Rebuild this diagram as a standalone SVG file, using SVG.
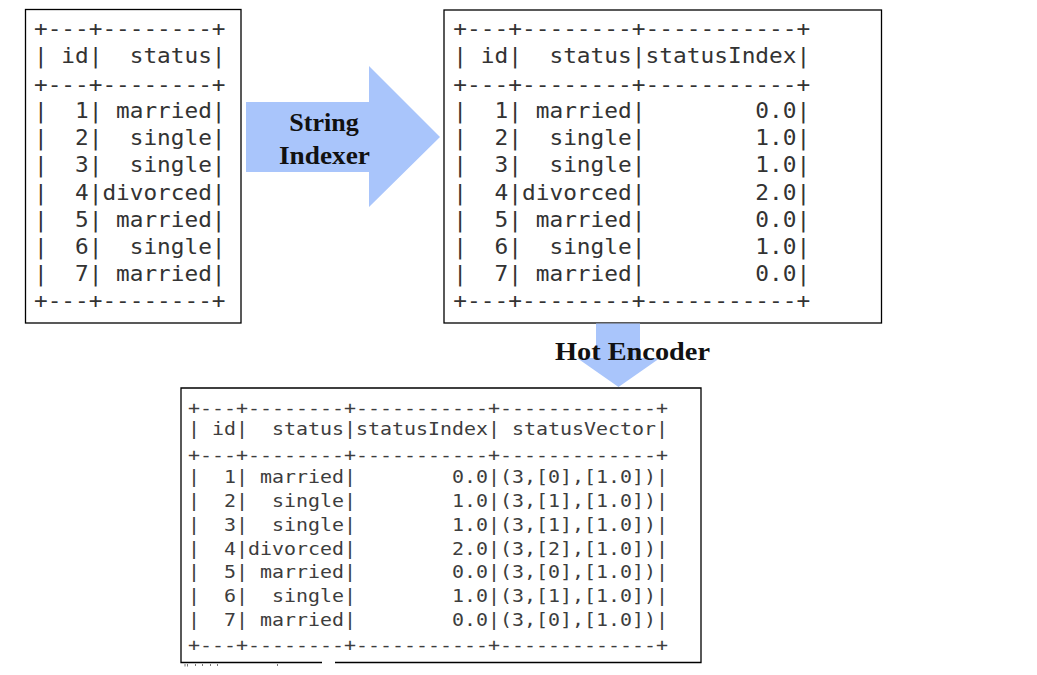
<svg xmlns="http://www.w3.org/2000/svg" width="1037" height="675" viewBox="0 0 1037 675">
<style>
.box{fill:#fff;stroke:#000;stroke-width:1.3}
.t{font-family:"DejaVu Sans Mono",monospace;font-size:20.5px;fill:#333;white-space:pre}
.s{font-family:"DejaVu Sans Mono",monospace;font-size:18.5px;fill:#3d3d3d;white-space:pre}
.arrow{fill:#a9c5fb}
.lbl{font-family:"Liberation Serif","Times New Roman",serif;font-weight:bold;fill:#111}
</style>
<rect width="1037" height="675" fill="#fff"/>
<g id="table-raw">
<rect class="box" x="25.5" y="9.5" width="215.5" height="313.5"/>
<g class="t">
<text x="34" y="35.5" textLength="191.5" lengthAdjust="spacingAndGlyphs">+---+--------+</text>
<text x="34" y="62.5" textLength="191.5" lengthAdjust="spacingAndGlyphs">|&#160;id|&#160;&#160;status|</text>
<text x="34" y="92" textLength="191.5" lengthAdjust="spacingAndGlyphs">+---+--------+</text>
<text x="34" y="118" textLength="191.5" lengthAdjust="spacingAndGlyphs">|&#160;&#160;1|&#160;married|</text>
<text x="34" y="145.2" textLength="191.5" lengthAdjust="spacingAndGlyphs">|&#160;&#160;2|&#160;&#160;single|</text>
<text x="34" y="172.4" textLength="191.5" lengthAdjust="spacingAndGlyphs">|&#160;&#160;3|&#160;&#160;single|</text>
<text x="34" y="199.6" textLength="191.5" lengthAdjust="spacingAndGlyphs">|&#160;&#160;4|divorced|</text>
<text x="34" y="226.8" textLength="191.5" lengthAdjust="spacingAndGlyphs">|&#160;&#160;5|&#160;married|</text>
<text x="34" y="254" textLength="191.5" lengthAdjust="spacingAndGlyphs">|&#160;&#160;6|&#160;&#160;single|</text>
<text x="34" y="281.2" textLength="191.5" lengthAdjust="spacingAndGlyphs">|&#160;&#160;7|&#160;married|</text>
<text x="34" y="308" textLength="191.5" lengthAdjust="spacingAndGlyphs">+---+--------+</text>
</g>
</g>
<g id="table-indexed">
<rect class="box" x="444" y="10" width="437.5" height="313"/>
<g class="t">
<text x="453.3" y="35.5" textLength="357" lengthAdjust="spacingAndGlyphs">+---+--------+-----------+</text>
<text x="453.3" y="62.5" textLength="357" lengthAdjust="spacingAndGlyphs">|&#160;id|&#160;&#160;status|statusIndex|</text>
<text x="453.3" y="92" textLength="357" lengthAdjust="spacingAndGlyphs">+---+--------+-----------+</text>
<text x="453.3" y="118" textLength="357" lengthAdjust="spacingAndGlyphs">|&#160;&#160;1|&#160;married|&#160;&#160;&#160;&#160;&#160;&#160;&#160;&#160;0.0|</text>
<text x="453.3" y="145.2" textLength="357" lengthAdjust="spacingAndGlyphs">|&#160;&#160;2|&#160;&#160;single|&#160;&#160;&#160;&#160;&#160;&#160;&#160;&#160;1.0|</text>
<text x="453.3" y="172.4" textLength="357" lengthAdjust="spacingAndGlyphs">|&#160;&#160;3|&#160;&#160;single|&#160;&#160;&#160;&#160;&#160;&#160;&#160;&#160;1.0|</text>
<text x="453.3" y="199.6" textLength="357" lengthAdjust="spacingAndGlyphs">|&#160;&#160;4|divorced|&#160;&#160;&#160;&#160;&#160;&#160;&#160;&#160;2.0|</text>
<text x="453.3" y="226.8" textLength="357" lengthAdjust="spacingAndGlyphs">|&#160;&#160;5|&#160;married|&#160;&#160;&#160;&#160;&#160;&#160;&#160;&#160;0.0|</text>
<text x="453.3" y="254" textLength="357" lengthAdjust="spacingAndGlyphs">|&#160;&#160;6|&#160;&#160;single|&#160;&#160;&#160;&#160;&#160;&#160;&#160;&#160;1.0|</text>
<text x="453.3" y="281.2" textLength="357" lengthAdjust="spacingAndGlyphs">|&#160;&#160;7|&#160;married|&#160;&#160;&#160;&#160;&#160;&#160;&#160;&#160;0.0|</text>
<text x="453.3" y="308" textLength="357" lengthAdjust="spacingAndGlyphs">+---+--------+-----------+</text>
</g>
</g>
<g id="table-encoded">
<rect x="181" y="388" width="520" height="274.5" fill="#fff"/>
<path d="M322 662.5 H181 V388 H701 V662.5 H335" fill="none" stroke="#000" stroke-width="1.3"/>
<g class="s">
<text x="188" y="414" textLength="480" lengthAdjust="spacingAndGlyphs">+---+--------+-----------+-------------+</text>
<text x="188" y="435" textLength="480" lengthAdjust="spacingAndGlyphs">|&#160;id|&#160;&#160;status|statusIndex|&#160;statusVector|</text>
<text x="188" y="461.3" textLength="480" lengthAdjust="spacingAndGlyphs">+---+--------+-----------+-------------+</text>
<text x="188" y="483.3" textLength="480" lengthAdjust="spacingAndGlyphs">|&#160;&#160;1|&#160;married|&#160;&#160;&#160;&#160;&#160;&#160;&#160;&#160;0.0|(3,[0],[1.0])|</text>
<text x="188" y="507" textLength="480" lengthAdjust="spacingAndGlyphs">|&#160;&#160;2|&#160;&#160;single|&#160;&#160;&#160;&#160;&#160;&#160;&#160;&#160;1.0|(3,[1],[1.0])|</text>
<text x="188" y="530.8" textLength="480" lengthAdjust="spacingAndGlyphs">|&#160;&#160;3|&#160;&#160;single|&#160;&#160;&#160;&#160;&#160;&#160;&#160;&#160;1.0|(3,[1],[1.0])|</text>
<text x="188" y="554.5" textLength="480" lengthAdjust="spacingAndGlyphs">|&#160;&#160;4|divorced|&#160;&#160;&#160;&#160;&#160;&#160;&#160;&#160;2.0|(3,[2],[1.0])|</text>
<text x="188" y="578.2" textLength="480" lengthAdjust="spacingAndGlyphs">|&#160;&#160;5|&#160;married|&#160;&#160;&#160;&#160;&#160;&#160;&#160;&#160;0.0|(3,[0],[1.0])|</text>
<text x="188" y="602" textLength="480" lengthAdjust="spacingAndGlyphs">|&#160;&#160;6|&#160;&#160;single|&#160;&#160;&#160;&#160;&#160;&#160;&#160;&#160;1.0|(3,[1],[1.0])|</text>
<text x="188" y="625.7" textLength="480" lengthAdjust="spacingAndGlyphs">|&#160;&#160;7|&#160;married|&#160;&#160;&#160;&#160;&#160;&#160;&#160;&#160;0.0|(3,[0],[1.0])|</text>
<text x="188" y="650.6" textLength="480" lengthAdjust="spacingAndGlyphs">+---+--------+-----------+-------------+</text>
</g>
<g fill="#777">
<rect x="184.5" y="664" width="1" height="2.5"/>
<rect x="187" y="664" width="1" height="2.5"/>
<rect x="195" y="664" width="1" height="2"/>
<rect x="202" y="664" width="1" height="2"/>
<rect x="210" y="664" width="1" height="2"/>
<rect x="217" y="664" width="1" height="2"/>
<rect x="277" y="664" width="1" height="2"/>
</g>
</g>
<g id="connectors">
<polygon class="arrow" points="246,102 369,102 369,66 440,137 369,207 369,172 246,172"/>
<polygon class="arrow" points="596,323.5 640,323.5 640,358 660,358 618.5,387 577,358 596,358"/>
</g>
<g id="labels">
<text class="lbl" x="324" y="130.5" font-size="26" text-anchor="middle">String</text>
<text class="lbl" x="279" y="164.3" font-size="26" textLength="91" lengthAdjust="spacingAndGlyphs">Indexer</text>
<text class="lbl" x="555" y="360" font-size="25" textLength="155" lengthAdjust="spacingAndGlyphs">Hot Encoder</text>
</g>
</svg>
